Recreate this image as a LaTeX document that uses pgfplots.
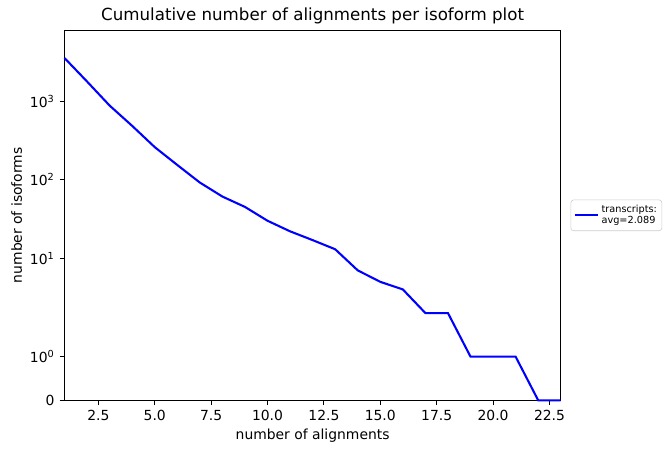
\documentclass[border=0pt]{standalone}
\usepackage{pgfplots}
\pgfplotsset{compat=1.18}
\usepackage{fontspec}
\setmainfont{DejaVu Sans}
\begin{document}
\begin{tikzpicture}
\useasboundingbox (-46.44pt,-37.94pt) rectangle (436.68pt,288.22pt);
\begin{axis}[
  at={(0,0)}, anchor=south west,
  scale only axis,
  width=357.3pt, height=266.4pt,
  xmin=1, xmax=23,
  ymin=0, ymax=8000,
  y coord trafo/.code={\pgfmathparse{(#1<=2)*#1*0.555556+(#1>2)*(0.810079+ln(max(#1,2))*0.4342945)}},
  ytick={0,1,10,100,1000},
  yticklabels={0,10\textsuperscript{0},10\textsuperscript{1},10\textsuperscript{2},10\textsuperscript{3}},
  xtick={2.5,5,7.5,10,12.5,15,17.5,20,22.5},
  minor tick num=0,
  /pgf/number format/assume math mode=true,
  /pgf/number format/.cd, fixed, fixed zerofill, precision=1, /pgfplots/.cd,
  tick align=outside,
  major tick length=3.5pt,
  tick style={line width=0.8pt, black},
  axis line style={line width=0.8pt},
  xtick pos=bottom, ytick pos=left,
  ticklabel style={font=\fontsize{10}{12}\selectfont, inner sep=3.5pt},
  title={Cumulative number of alignments per isoform plot},
  title style={at={(axis description cs:0.5,1.0038)}, anchor=base, font=\fontsize{12}{14}\selectfont, inner sep=0pt},
  xlabel={number of alignments},
  xlabel style={at={(axis description cs:0.5,-0.1059)}, anchor=base, font=\fontsize{10}{12}\selectfont, inner sep=0pt},
  ylabel={number of isoforms},
  ylabel style={at={(axis description cs:-0.0857,0.5)}, anchor=base, rotate=0, font=\fontsize{10}{12}\selectfont, inner sep=0pt},
  legend style={at={(axis description cs:1.02,0.5)}, anchor=west,
    font=\fontsize{7}{8.4}\selectfont, draw=black!20, rounded corners=2pt,
    fill=white, inner sep=2pt, nodes={align=left, inner sep=1.5pt}},
  legend cell align=left,
  clip=false,
]
\addplot[blue, line width=1.5pt] table {
x y
1 3550
2 1780
3 880
4 485
5 260
6 154
7 92
8 61
9 45
10 30
11 22
12 17
13 13
14 7
15 5
16 4
17 2
18 2
19 1
20 1
21 1
22 0
23 0
};
\addlegendentry{transcripts:\\avg=2.089}
\end{axis}
\end{tikzpicture}
\end{document}
